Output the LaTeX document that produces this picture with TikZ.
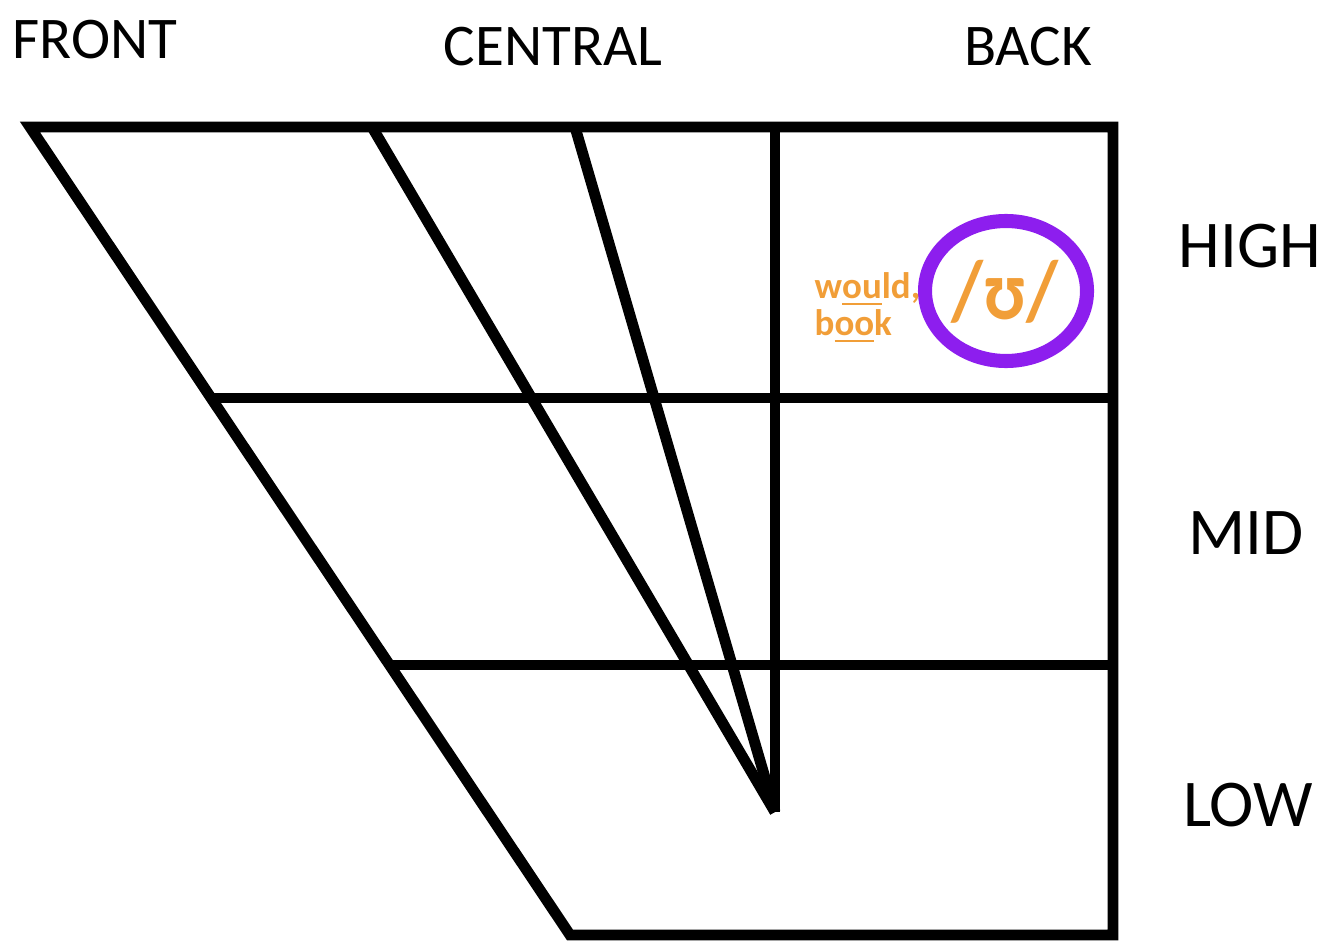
\documentclass[tikz,border=0pt]{standalone}
\usepackage{fontspec}
\setmainfont{Carlito}
\usetikzlibrary{positioning}
\definecolor{VowelPurple}{RGB}{141, 30, 238}
\definecolor{VowelOrange}{RGB}{241, 158, 56}

\tikzset{
  chartline/.style={line width=3.1pt, line join=miter, line cap=butt},
  colhead/.style={font=\fontsize{16.8}{18}\selectfont, inner sep=0pt},
  rowhead/.style={font=\fontsize{19}{21}\selectfont, inner sep=0pt},
  example/.style={font=\fontsize{10.5}{12}\selectfont\bfseries, text=VowelOrange, inner sep=0pt, anchor=base west},
}

\begin{document}
\begin{tikzpicture}[x=0.01cm, y=-0.01cm]
    \useasboundingbox (0,0) rectangle (1334,952);

    % Corners of the chart
    \coordinate (tl) at (30,127);
    \coordinate (tr) at (1113,127);
    \coordinate (br) at (1113,935);
    \coordinate (bl) at (570,935);

    % Left edge at the row borders
    \coordinate (hl) at (211,398);
    \coordinate (ml) at (390,665);
    \coordinate (hr) at (1113,398);
    \coordinate (mr) at (1113,665);

    % Central lines
    \coordinate (c1) at (372,127);
    \coordinate (c2) at (575,127);
    \coordinate (c3) at (775,127);
    \coordinate (apex) at (775,812);

    \draw[chartline] (tl) -- (tr) -- (br) -- (bl) -- cycle;
    \draw[chartline] (hl) -- (hr);
    \draw[chartline] (ml) -- (mr);
    \draw[chartline] (c1) -- (apex);
    \draw[chartline] (c2) -- (apex);
    \draw[chartline] (c3) -- (apex);

    % Column and row labels
    \node[colhead] (front) at (95,40) {FRONT};
    \node[colhead] (central) at (553,47) {CENTRAL};
    \node[colhead] (back) at (1028,47) {BACK};

    \node[rowhead] (high) at (1250,246) {HIGH};
    \node[rowhead] (mid) at (1246,533) {MID};
    \node[rowhead] (low) at (1248,805) {LOW};

    % The vowel
    \draw[VowelPurple, line width=4pt] (1006,291) ellipse [x radius=81, y radius=70];
    \node[font=\fontsize{24}{26}\selectfont\bfseries, text=VowelOrange, inner sep=0pt, xscale=0.88] (vowel) at (1005,292) {/ʊ/};

    \node[example] (would) at (814,299) {w\underline{ou}ld,};
    \node[example] (book) at (814,336) {b\underline{oo}k};
\end{tikzpicture}
\end{document}
